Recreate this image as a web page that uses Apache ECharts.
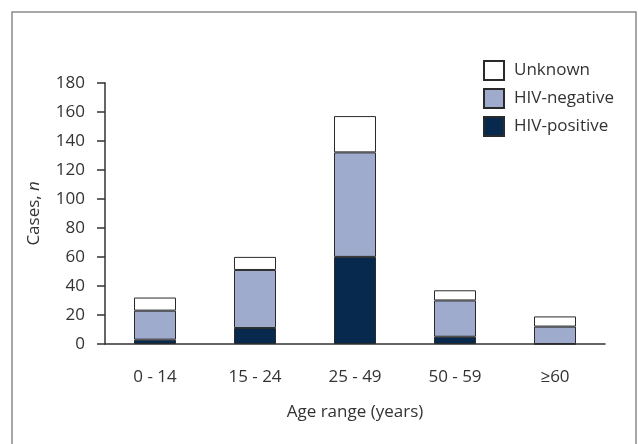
<!DOCTYPE html>
<html>
<head>
<meta charset="utf-8">
<script src="https://cdn.jsdelivr.net/npm/echarts@6/dist/echarts.min.js"></script>
<style>
  html, body { margin: 0; padding: 0; background: #fff; }
  #chart { width: 638px; height: 444px; }
</style>
</head>
<body>
<div id="chart"></div>
<script>
// categories and series (cases per age group)
const ageGroups = ['0 - 14', '15 - 24', '25 - 49', '50 - 59', '≥60']
const hivPositive = [3, 11, 60, 5, 0]
const hivNegative = [20, 40, 72, 25, 12]
const unknown = [9, 9, 25, 7, 7]

const font = 'Open Sans'
const edge = '#2a2a2a'

let chart = echarts.init(document.getElementById('chart'))

chart.setOption({
  animation: false,
  textStyle: { fontFamily: font },
  // outer frame
  graphic: [
    {
      type: 'rect',
      shape: { x: 12, y: 12, width: 624, height: 450 },
      style: { fill: 'none', stroke: '#8a8a8a', lineWidth: 1.5 },
    },
  ],
  grid: { left: 105, right: 33, top: 82.7, bottom: 100 },
  legend: {
    data: ['Unknown', 'HIV-negative', 'HIV-positive'],
    orient: 'vertical',
    left: 483,
    top: 60,
    padding: 0,
    icon: 'rect',
    itemWidth: 20,
    itemHeight: 19,
    itemGap: 7,
    textStyle: { fontSize: 17, color: '#333', fontFamily: font, padding: [0, 0, 0, 5] },
    selectedMode: false,
  },
  xAxis: {
    type: 'category',
    data: ageGroups,
    name: 'Age range (years)',
    nameLocation: 'middle',
    nameGap: 60,
    nameTextStyle: { fontSize: 17, color: '#333' },
    axisLine: { lineStyle: { color: '#333', width: 1.5 } },
    axisTick: { length: 8, lineStyle: { color: '#333', width: 1.5 } },
    axisLabel: { fontSize: 17, color: '#333', margin: 25 },
  },
  yAxis: {
    type: 'value',
    min: 0,
    max: 180,
    interval: 20,
    name: '{a|Cases, }{b|n}',
    nameLocation: 'middle',
    nameGap: 62,
    nameTextStyle: {
      rich: {
        a: { fontSize: 17, color: '#333', fontFamily: font },
        b: { fontSize: 17, color: '#333', fontFamily: font, fontStyle: 'italic' },
      },
    },
    splitLine: { show: false },
    axisLine: { show: true, lineStyle: { color: '#333', width: 1.5 } },
    axisTick: { show: true, length: 8, lineStyle: { color: '#333', width: 1.5 } },
    axisLabel: { fontSize: 17, color: '#333', margin: 20 },
  },
  series: [
    {
      name: 'HIV-positive',
      type: 'bar',
      stack: 'cases',
      barWidth: 42,
      data: hivPositive,
      itemStyle: { color: '#06294d', borderColor: edge, borderWidth: 1 },
    },
    {
      name: 'HIV-negative',
      type: 'bar',
      stack: 'cases',
      barWidth: 42,
      data: hivNegative,
      itemStyle: { color: '#9eabcd', borderColor: edge, borderWidth: 1 },
    },
    {
      name: 'Unknown',
      type: 'bar',
      stack: 'cases',
      barWidth: 42,
      data: unknown,
      itemStyle: { color: '#ffffff', borderColor: edge, borderWidth: 1 },
    },
  ],
})
</script>
</body>
</html>
